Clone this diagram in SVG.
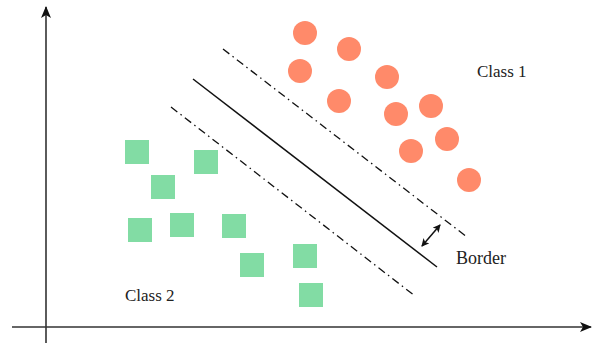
<svg xmlns="http://www.w3.org/2000/svg" width="597" height="347" viewBox="0 0 597 347">
<style>
.axis{stroke:#333;stroke-width:1.6;fill:none}
.sq{fill:#82DCA4}
.ci{fill:#FF8A6A}
.solid{stroke:#111;stroke-width:1.5;fill:none}
.dd{stroke:#111;stroke-width:1.3;fill:none;stroke-dasharray:8 4 1.5 4}
.lbl{font-family:"Liberation Serif",serif;font-size:17px;fill:#222}
</style>
<defs>
<marker id="ax" viewBox="0 0 12 10" refX="11" refY="5" markerWidth="12" markerHeight="10" markerUnits="userSpaceOnUse" orient="auto">
<path d="M0,0 L12,5 L0,10 L3,5 Z" fill="#111"/>
</marker>
<marker id="sm" viewBox="0 0 8 8" refX="7" refY="4" markerWidth="8" markerHeight="8" markerUnits="userSpaceOnUse" orient="auto-start-reverse">
<path d="M0,0 L8,4 L0,8 L2,4 Z" fill="#111"/>
</marker>
</defs>
<g id="axes">
<line class="axis" x1="46" y1="343" x2="46" y2="7" marker-end="url(#ax)"/>
<line class="axis" x1="12" y1="327" x2="591" y2="327" marker-end="url(#ax)"/>
</g>
<g id="connectors">
<line class="solid" x1="193" y1="79" x2="437" y2="267"/>
<line class="dd" x1="223" y1="49" x2="467" y2="237"/>
<line class="dd" x1="171" y1="107" x2="415" y2="296"/>
<line class="solid" x1="422" y1="246" x2="440" y2="225" stroke-width="1.3" marker-start="url(#sm)" marker-end="url(#sm)"/>
</g>
<g id="class1">
<circle class="ci" cx="305" cy="33" r="12"/>
<circle class="ci" cx="349" cy="49" r="12"/>
<circle class="ci" cx="300" cy="71" r="12"/>
<circle class="ci" cx="387" cy="77" r="12"/>
<circle class="ci" cx="339" cy="101" r="12"/>
<circle class="ci" cx="396" cy="114" r="12"/>
<circle class="ci" cx="431" cy="106" r="12"/>
<circle class="ci" cx="447" cy="139" r="12"/>
<circle class="ci" cx="411" cy="151" r="12"/>
<circle class="ci" cx="469" cy="180" r="12"/>
</g>
<g id="class2">
<rect class="sq" x="125" y="140" width="24" height="24"/>
<rect class="sq" x="194" y="150" width="24" height="24"/>
<rect class="sq" x="151" y="175" width="24" height="24"/>
<rect class="sq" x="128" y="218" width="24" height="24"/>
<rect class="sq" x="170" y="213" width="24" height="24"/>
<rect class="sq" x="222" y="214" width="24" height="24"/>
<rect class="sq" x="240" y="253" width="24" height="24"/>
<rect class="sq" x="293" y="244" width="24" height="24"/>
<rect class="sq" x="299" y="283" width="24" height="24"/>
</g>
<g id="labels">
<text class="lbl" x="477" y="77">Class 1</text>
<text class="lbl" x="125" y="301">Class 2</text>
<text class="lbl" x="456" y="264" style="font-size:18px">Border</text>
</g>
</svg>
